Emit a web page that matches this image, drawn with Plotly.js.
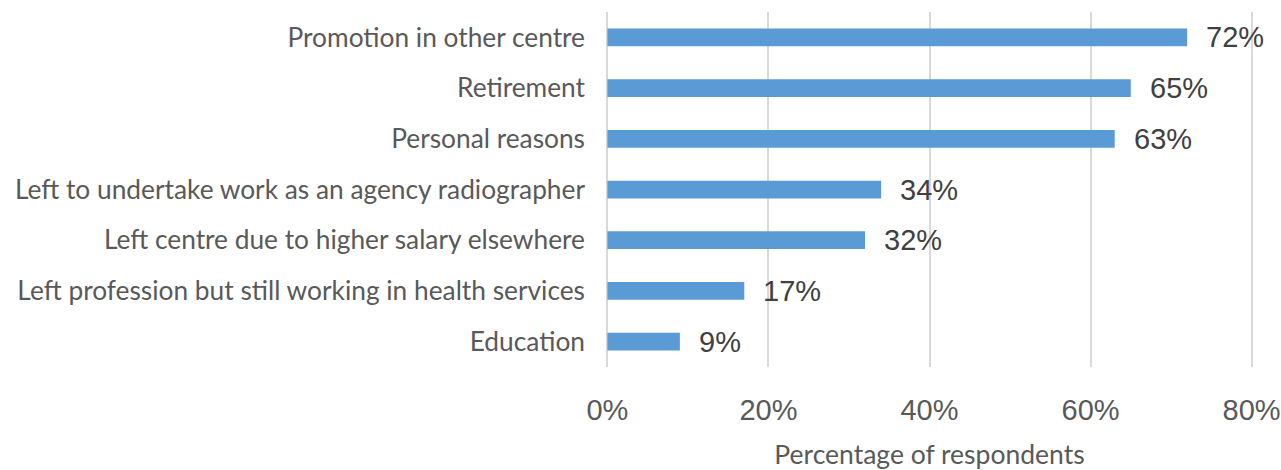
<!DOCTYPE html>
<html>
<head>
<meta charset="utf-8">
<script src="https://cdn.plot.ly/plotly-3.0.1.min.js"></script>
<style>
  html, body { margin: 0; padding: 0; background: #fff; }
  #chart { width: 1281px; height: 470px; }
</style>
</head>
<body>
<div id="chart"></div>
<script>
var reasons = [
  'Promotion in other centre',
  'Retirement',
  'Personal reasons',
  'Left to undertake work as an agency radiographer',
  'Left centre due to higher salary elsewhere',
  'Left profession but still working in health services',
  'Education'
];
var percents = [72, 65, 63, 34, 32, 17, 9];
var xTicks = [0, 20, 40, 60, 80];
var xTickLabels = ['0%', '20%', '40%', '60%', '80%'];

var numFont = 'Liberation Sans Narrow, Arial Narrow, Liberation Sans, Arial, sans-serif';

var trace = {
  type: 'bar',
  orientation: 'h',
  x: percents,
  y: reasons,
  marker: { color: '#5B9BD5' },
  hoverinfo: 'x+y'
};

// value labels sit right of each bar end
var labels = reasons.map(function (r, i) {
  return {
    x: percents[i],
    y: r,
    text: percents[i] + '%',
    showarrow: false,
    xanchor: 'left',
    xshift: 17,
    font: { family: numFont, size: 29, color: '#404040' }
  };
});

var layout = {
  width: 1281,
  height: 470,
  margin: { l: 605, r: 26.5, t: 12, b: 103 },
  paper_bgcolor: '#fff',
  plot_bgcolor: '#fff',
  bargap: 0.65,
  showlegend: false,
  xaxis: {
    // a little slack each side so the 0% and 80% grid lines are kept
    range: [-0.3, 80.3],
    tickvals: xTicks,
    ticktext: xTickLabels,
    ticklabeloverflow: 'allow',
    showgrid: true,
    gridcolor: '#D9D9D9',
    gridwidth: 2,
    zeroline: false,
    showline: false,
    ticks: '',
    ticklabelstandoff: 23,
    tickfont: { family: numFont, size: 29, color: '#595959' },
    title: {
      text: 'Percentage of respondents',
      standoff: 28,
      font: { family: 'Lato, sans-serif', size: 26.5, color: '#595959' }
    }
  },
  yaxis: {
    autorange: 'reversed',
    showgrid: false,
    zeroline: false,
    showline: false,
    ticks: '',
    ticklabelstandoff: 19,
    tickfont: { family: 'Lato, sans-serif', size: 26.3, color: '#595959' }
  },
  annotations: labels
};

Plotly.newPlot('chart', [trace], layout, { displayModeBar: false, staticPlot: true });
</script>
</body>
</html>
